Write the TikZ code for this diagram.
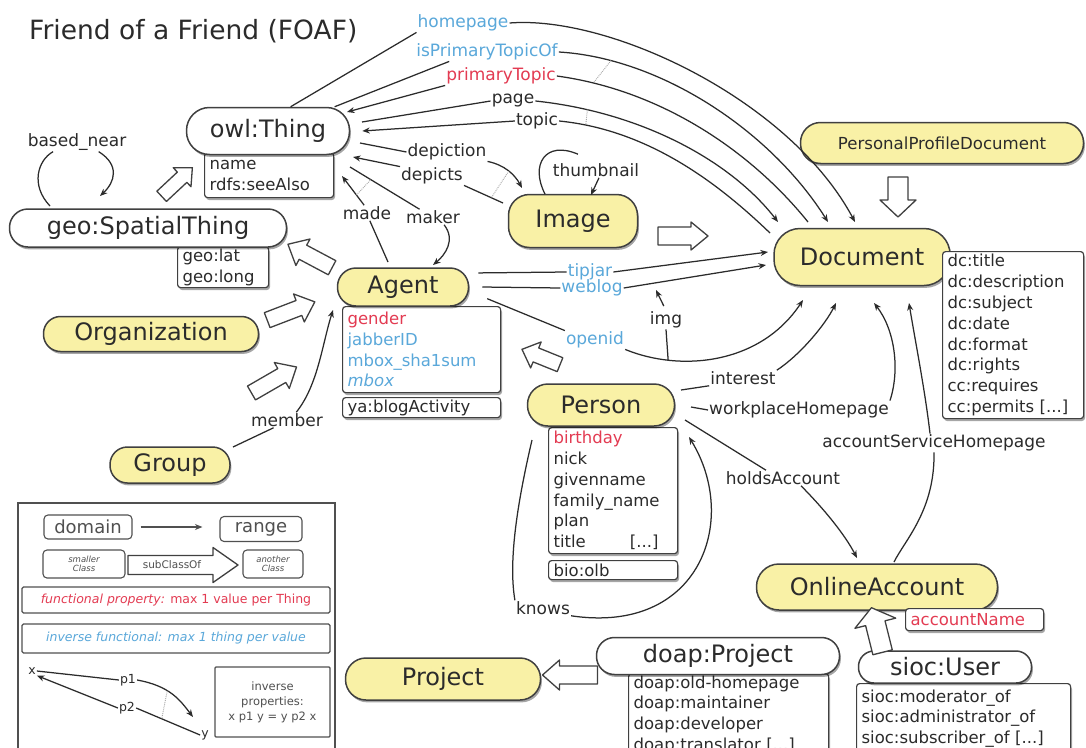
\documentclass[tikz,border=0pt]{standalone}
\usepackage{fontspec}
\setmainfont{DejaVu Sans}
\usetikzlibrary{shadows,arrows.meta}

\definecolor{inkC}{HTML}{2B2B2B}
\definecolor{edgeC}{HTML}{404040}
\definecolor{legendC}{HTML}{505050}
\definecolor{classFill}{HTML}{F9F1A6}
\definecolor{propRed}{HTML}{E33B52}
\definecolor{propBlue}{HTML}{5AA8DA}

\newcommand{\foafClassFont}{\fontsize{24}{28}\selectfont}
\newcommand{\foafPropFont}{\fontsize{16.5}{20.8}\selectfont}
\newcommand{\foafLabelFont}{\fontsize{17}{20}\selectfont}

\tikzset{
  softshadow/.style={drop shadow={shadow xshift=1.4pt, shadow yshift=-2.4pt, opacity=.35, fill=black}},
  cls/.style={draw=edgeC, line width=1.5pt, fill=classFill, text=inkC, font=\foafClassFont, inner sep=0pt, softshadow},
  wcls/.style={cls, fill=white},
  propbox/.style={draw=edgeC, line width=1.2pt, fill=white, rounded corners=3pt, softshadow, anchor=north west,
    align=left, inner xsep=5pt, inner ysep=2pt, text=inkC, font=\foafPropFont},
  lbl/.style={font=\foafLabelFont, text=inkC, inner sep=1pt},
  conn/.style={draw=inkC, line width=1.25pt},
  headend/.style={-{Stealth[length=7.5pt,width=6pt]}},
  dotc/.style={draw=gray!70, line width=0.9pt, densely dotted},
  subarr/.style={draw=edgeC, line width=1.3pt, fill=white, line join=round},
  legendbox/.style={draw=legendC, line width=1.1pt, rounded corners=4pt, inner sep=0pt, text=legendC},
  pics/subarrow/.style args={#1/#2/#3/#4}{code={
    \draw[subarr] (-#1/2,-#2) -- (#1/2-#4,-#2) -- (#1/2-#4,-#3) -- (#1/2,0)
      -- (#1/2-#4,#3) -- (#1/2-#4,#2) -- (-#1/2,#2) -- cycle;}},
}

\begin{document}
\begin{tikzpicture}[x=1pt,y=-1pt]
\fill[white] (0,0) rectangle (1086,747);
\useasboundingbox (0,0) rectangle (1086,747);

% title
\node[anchor=west, font=\fontsize{26.5}{30}\selectfont, text=inkC, inner sep=0pt] (title) at (29,31) {Friend of a Friend (FOAF)};

% property boxes (drawn first, the class capsules sit on top of them)
\node[propbox, text width=119pt, minimum height=45pt] (thingP) at (204,152) {name\\rdfs:seeAlso};
\node[propbox, text width=81pt, minimum height=41pt] (spatialP) at (177,246) {geo:lat\\geo:long};
\node[propbox, text width=148pt, minimum height=86pt] (agentP) at (342,306)
  {\textcolor{propRed}{gender}\\\textcolor{propBlue}{jabberID}\\\textcolor{propBlue}{mbox\_sha1sum}\\\textcolor{propBlue}{\itshape mbox}};
\node[propbox, text width=148pt, minimum height=20pt] (agentB) at (342,397) {ya:blogActivity};
\node[propbox, text width=119pt, minimum height=126pt] (personP) at (548,427)
  {\textcolor{propRed}{birthday}\\nick\\givenname\\family\_name\\plan\\title\hspace{44pt}[...]};
\node[propbox, text width=119pt, minimum height=19pt] (personB) at (548,560) {bio:olb};
\node[propbox, text width=190pt, minimum height=82pt] (doapP) at (628,673)
  {doap:old-homepage\\doap:maintainer\\doap:developer\\doap:translator [...]};
\node[propbox, text width=204pt, minimum height=70pt] (siocP) at (856,683)
  {sioc:moderator\_of\\sioc:administrator\_of\\sioc:subscriber\_of [...]};

% classes
\node[wcls, minimum width=163pt, minimum height=47pt, rounded corners=23pt] (thing) at (268,131) {owl:Thing};
\node[wcls, minimum width=277pt, minimum height=38pt, rounded corners=18.5pt] (spatial) at (148,228) {geo:SpatialThing};
\node[cls, minimum width=131pt, minimum height=38pt, rounded corners=18.5pt] (agent) at (403,287) {Agent};
\node[cls, minimum width=215pt, minimum height=35pt, rounded corners=17pt] (org) at (151,334) {Organization};
\node[cls, minimum width=120pt, minimum height=36pt, rounded corners=17.5pt] (group) at (170,465) {Group};
\node[cls, minimum width=129pt, minimum height=53pt, rounded corners=21pt] (image) at (573,221) {Image};
\node[cls, minimum width=176pt, minimum height=57pt, rounded corners=26pt] (doc) at (862,257) {Document};
\node[cls, minimum width=283pt, minimum height=41pt, rounded corners=20pt, font=\fontsize{16.6}{20}\selectfont] (ppd) at (942,143) {PersonalProfileDocument};
\node[cls, minimum width=147pt, minimum height=42pt, rounded corners=20.5pt] (person) at (601,405) {Person};
\node[cls, minimum width=241pt, minimum height=46pt, rounded corners=22.5pt] (oa) at (877,587) {OnlineAccount};
\node[cls, minimum width=195pt, minimum height=42pt, rounded corners=20.5pt] (project) at (443,679) {Project};
\node[wcls, minimum width=243pt, minimum height=37pt, rounded corners=18pt] (doap) at (718,656) {doap:Project};
\node[wcls, minimum width=173pt, minimum height=32pt, rounded corners=15.5pt] (sioc) at (945,667) {sioc:User};

% boxes lying over their capsules
\node[propbox, text width=131pt, minimum height=167pt] (docP) at (942,251)
  {dc:title\\dc:description\\dc:subject\\dc:date\\dc:format\\dc:rights\\cc:requires\\cc:permits [...]};
\node[propbox, text width=128pt, minimum height=22pt] (oaP) at (905,608) {\textcolor{propRed}{accountName}};

% subclass arrows
\pic[rotate=43] at (177,182) {subarrow=42/7/13/14};
\pic[rotate=152] at (310,256) {subarrow=50/8/15/17};
\pic[rotate=21] at (291,311) {subarrow=51/8/15/17};
\pic[rotate=30] at (274,380) {subarrow=52/8/15/17};
\pic[rotate=158] at (541,357) {subarrow=41/7.5/14/15};
\pic at (683,236) {subarrow=50/9/14/17};
\pic[rotate=-90] at (898,197) {subarrow=40/10/18/17};
\pic[rotate=180] at (570,675) {subarrow=55/9/15/17};
\pic[rotate=104] at (877,630) {subarrow=46/10/21/16};

% ---- properties between owl:Thing and Document
\node[lbl, text=propBlue] (lHome) at (463,23) {homepage};
\draw[conn] (thing.47) -- (lHome.south west);
\draw[conn, headend] (lHome.east) .. controls (610,15) and (790,100) .. ([shift={(-7,-35)}]doc.center);

\node[lbl, text=propBlue] (lIPT) at (487,52) {isPrimaryTopicOf};
\draw[conn] (thing.20) -- (lIPT.-166);
\draw[conn, headend] (lIPT.east) .. controls (660,58) and (770,130) .. ([shift={(-34,-35)}]doc.center) coordinate[pos=0.17] (iptMid);

\node[lbl, text=propRed] (lPT) at (501,76) {primaryTopic};
\draw[conn, headend] (lPT.south west) -- ([shift={(79,-19)}]thing.center);
\draw[conn] ([shift={(-54,-35)}]doc.center) .. controls (750,150) and (660,90) .. (lPT.east) coordinate[pos=0.88] (ptMid);
\draw[dotc] (iptMid) -- (ptMid);

\node[lbl] (lPage) at (513,101) {page};
\draw[conn] ([shift={(94,-9)}]thing.center) -- (lPage.west);
\draw[conn, headend] (lPage.east) .. controls (640,112) and (730,160) .. ([shift={(-84,-35)}]doc.center) coordinate[pos=0.17] (pageMid);

\node[lbl] (lTopic) at (537,121) {topic};
\draw[conn, headend] (lTopic.west) -- ([xshift=12pt]thing.east);
\draw[conn] ([shift={(-92,-24)}]doc.center) .. controls (720,185) and (650,130) .. (lTopic.east) coordinate[pos=0.9] (topicMid);
\draw[dotc] (pageMid) -- (topicMid);

% ---- depiction / depicts
\node[lbl] (lDepiction) at (447,152) {depiction};
\draw[conn] ([shift={(92,12)}]thing.center) -- (lDepiction.west);
\draw[conn, headend] (lDepiction.south east) .. controls (505,165) and (515,175) .. ([shift={(-51,-33)}]image.center) coordinate[pos=0.5] (depMid);

\node[lbl] (lDepicts) at (432,176) {depicts};
\draw[conn] ([shift={(-70,-18)}]image.center) -- (lDepicts.south east) coordinate[pos=0.3] (dptMid);
\draw[conn, headend] (lDepicts.north west) -- ([shift={(85,26)}]thing.center);
\draw[dotc] (depMid) -- (dptMid);

% ---- made / maker
\node[lbl] (lMade) at (367,213) {made};
\draw[conn] ([shift={(-15,-25)}]agent.center) -- (lMade.-70);
\draw[conn, headend] (lMade.110) -- ([shift={(74,45)}]thing.center) coordinate[pos=0.35] (madeMid);

\node[lbl] (lMaker) at (433,217) {maker};
\draw[conn] ([shift={(82,36)}]thing.center) -- (lMaker.150) coordinate[pos=0.3] (makerMid);
\draw[conn, headend] (lMaker.-35) .. controls (456,240) and (445,255) .. ([shift={(30,-22)}]agent.center);
\draw[dotc] (madeMid) -- (makerMid);

% ---- thumbnail loop on Image
\node[lbl] (lThumb) at (596,170) {thumbnail};
\draw[conn] ([shift={(-28,-27)}]image.center) .. controls (530,165) and (545,140) .. ([shift={(-18,-8)}]lThumb.north);
\draw[conn, headend] ([xshift=3pt]lThumb.south) -- ([shift={(18,-26)}]image.center);

% ---- Agent to Document
\node[lbl, text=propBlue] (lTipjar) at (590,272) {tipjar};
\draw[conn] ([xshift=9pt]agent.12) -- (lTipjar.west);
\draw[conn, headend] (lTipjar.east) -- ([shift={(-94,-5)}]doc.center);

\node[lbl, text=propBlue] (lWeblog) at (592,288) {weblog};
\draw[conn] ([xshift=13pt]agent.east) -- (lWeblog.west);
\draw[conn, headend] (lWeblog.east) -- ([shift={(-96,8)}]doc.center);

\node[lbl, text=propBlue] (lOpenid) at (595,340) {openid};
\draw[conn] ([xshift=18pt]agent.-10) -- (lOpenid.north west);
\draw[conn, headend] (lOpenid.south east) .. controls (680,372) and (760,365) .. ([shift={(-59,43)}]doc.center) coordinate[pos=0.24] (imgFoot);

\node[lbl] (lImg) at (666,320) {img};
\coordinate (imgEnd) at (656,290);
\draw[conn] (imgFoot) -- (lImg.south);
\draw[conn, headend, shorten <=5pt] (lImg.north) -- (imgEnd);

% ---- Person to Document / OnlineAccount
\node[lbl] (lInterest) at (743,378) {interest};
\draw[conn] ([shift={(80,-15)}]person.center) -- (lInterest.south west);
\draw[conn, headend] (lInterest.north east) .. controls (800,355) and (825,325) .. ([shift={(-26,46)}]doc.center);

\node[lbl] (lWork) at (799,410) {workplaceHomepage};
\draw[conn] ([shift={(90,2)}]person.center) -- (lWork.west);
\draw[conn, headend] (lWork.north east) .. controls (900,370) and (895,330) .. ([shift={(12,46)}]doc.center);

\node[lbl] (lASH) at (934,443) {accountServiceHomepage};
\draw[conn, headend] ([xshift=-4pt]lASH.north) .. controls (925,390) and (915,340) .. ([shift={(47,46)}]doc.center);
\draw[conn] (lASH.south) .. controls (935,510) and (905,540) .. ([shift={(17,-25)}]oa.center);

\node[lbl] (lHolds) at (783,478) {holdsAccount};
\draw[conn] ([shift={(84,15)}]person.center) -- ([xshift=-17pt]lHolds.north);
\draw[conn, headend] ([xshift=18pt]lHolds.south) .. controls (825,510) and (845,535) .. ([shift={(-20,-29)}]oa.center);

\node[lbl] (lKnows) at (543,608) {knows};
\draw[conn] ([shift={(-69,35)}]person.center) .. controls (518,500) and (508,560) .. (lKnows.north west);
\draw[conn, headend] (lKnows.south east) .. controls (700,635) and (740,520) .. ([shift={(88,32)}]person.center);

% ---- member, based_near
\node[lbl] (lMember) at (287,420) {member};
\draw[conn] ([shift={(63,-18)}]group.center) -- (lMember.-150);
\draw[conn, headend] (lMember.40) .. controls (318,385) and (322,345) .. ([shift={(-70,23)}]agent.center);

\node[lbl] (lBased) at (77,142) {based\_near};
\draw[conn] ([shift={(-98,-22)}]spatial.center) .. controls (30,185) and (38,160) .. (lBased.-158);
\draw[conn, headend] (lBased.-24) .. controls (120,165) and (115,182) .. ([shift={(-48,-32)}]spatial.center);

% ---- key
\draw[draw=legendC, line width=1.1pt] (18,503) rectangle (335,765);
\node[legendbox, minimum width=88pt, minimum height=24pt, font=\fontsize{18}{20}\selectfont] (lgDomain) at (88,527) {domain};
\node[legendbox, minimum width=82pt, minimum height=25pt, font=\fontsize{18}{20}\selectfont] (lgRange) at (261,529) {range};
\draw[conn, draw=legendC, headend, shorten <=8pt, shorten >=17pt] (lgDomain.east) -- (lgRange.west |- lgDomain.east);
\node[legendbox, minimum width=82pt, minimum height=28pt, align=center, font=\fontsize{8.5}{9.5}\selectfont\itshape] (lgSmall) at (84,564) {smaller\\Class};
\pic at (183,565) {subarrow=110/9.5/17.5/25};
\node[font=\fontsize{10.5}{12}\selectfont, text=legendC, inner sep=0pt] (lgSub) at (172,565) {subClassOf};
\node[legendbox, minimum width=60pt, minimum height=28pt, align=center, font=\fontsize{8.5}{9.5}\selectfont\itshape] (lgAnother) at (273,564) {another\\Class};
\node[legendbox, rounded corners=1.5pt, minimum width=308pt, minimum height=26pt, font=\fontsize{12.5}{14}\selectfont, text=propRed] (lgFunc) at (176,600)
  {\itshape functional property:\upshape{} max 1 value per Thing};
\node[legendbox, rounded corners=1.5pt, minimum width=308pt, minimum height=29pt, font=\fontsize{12.5}{14}\selectfont\itshape, text=propBlue] (lgInvF) at (176,638.5)
  {inverse functional: max 1 thing per value};
\node[font=\fontsize{12.5}{14}\selectfont, text=inkC, inner sep=1pt] (lgX) at (32,671) {x};
\node[font=\fontsize{12.5}{14}\selectfont, text=inkC, inner sep=1pt] (lgY) at (205,735) {y};
\node[font=\fontsize{12.5}{14}\selectfont, text=inkC, inner sep=1pt] (lgP1) at (128,680) {p1};
\node[font=\fontsize{12.5}{14}\selectfont, text=inkC, inner sep=1pt] (lgP2) at (127,708) {p2};
\draw[conn] (lgX.east) -- (lgP1.west);
\draw[conn, headend] (lgP1.east) .. controls (170,686) and (180,700) .. ([shift={(-12,-18)}]lgY.center) coordinate[pos=0.4] (p1Mid);
\draw[conn] (lgY.west) -- (lgP2.east) coordinate[pos=0.6] (p2Mid);
\draw[conn, headend] (lgP2.west) -- (lgX.south east);
\draw[dotc] (p1Mid) -- (p2Mid);
\node[legendbox, rounded corners=1pt, minimum width=115pt, minimum height=70pt, align=center, font=\fontsize{11.5}{15}\selectfont] (lgInv) at (272.5,702)
  {inverse\\properties:\\x p1 y = y p2 x};
\end{tikzpicture}
\end{document}
